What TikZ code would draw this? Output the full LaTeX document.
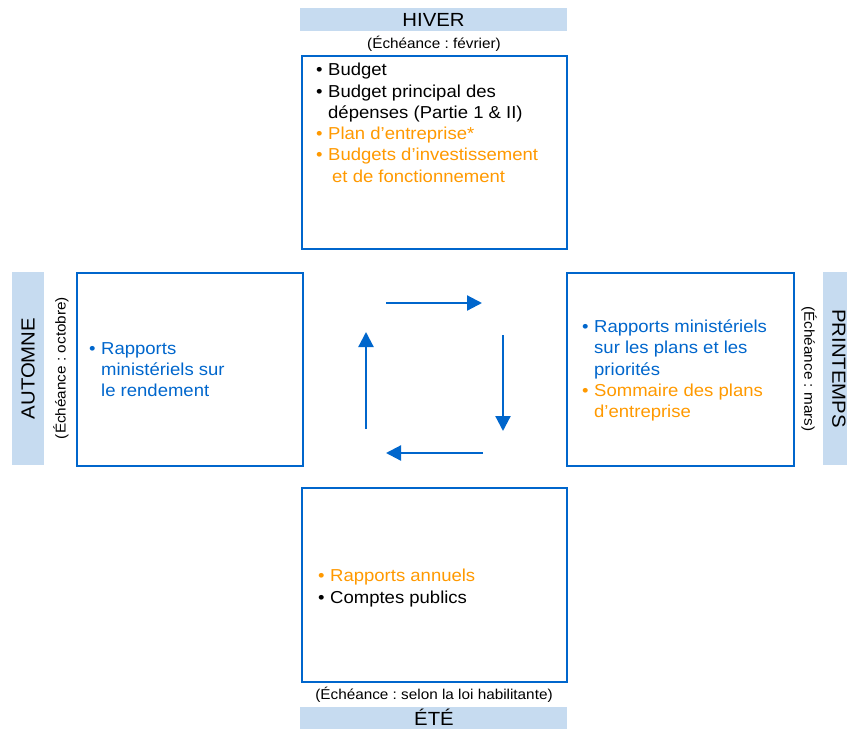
\documentclass[tikz,border=0pt]{standalone}
\usepackage{fontspec}
\setmainfont{Liberation Sans}[FakeStretch=1.07]
\usetikzlibrary{arrows.meta,positioning}

\definecolor{lineblue}{HTML}{0066CC}
\definecolor{bandblue}{HTML}{C6DBF0}
\definecolor{reportorange}{HTML}{FF9900}

\newcommand{\bul}{\makebox[12pt][l]{\textbullet}}
\newcommand{\ind}{\hspace*{12pt}}
\frenchspacing

\tikzset{
  season/.style={fill=bandblue, inner sep=0pt, font=\fontsize{19}{22}\selectfont},
  deadline/.style={inner sep=0pt, font=\fontsize{14.3}{16}\selectfont},
  quarter/.style={draw=lineblue, line width=2pt, inner sep=0pt},
  items/.style={inner sep=0pt, align=left, font=\fontsize{17.3}{21.3}\selectfont},
  cycle/.style={draw=lineblue, line width=2.2pt, -{Triangle[length=15pt,width=15pt]}}
}

\begin{document}
\begin{tikzpicture}[x=1pt,y=-1pt]
\useasboundingbox (0,0) rectangle (847,729);

% The four seasons
\node[quarter, minimum width=265pt, minimum height=193pt] (hiver) at (434.5,152.5) {};
\node[quarter, minimum width=226pt, minimum height=193pt] (automne) at (190,369.5) {};
\node[quarter, minimum width=227pt, minimum height=193pt] (printemps) at (680.5,369.5) {};
\node[quarter, minimum width=265pt, minimum height=194pt] (ete) at (434.5,585) {};

% Season headers
\node[season, minimum width=267pt, minimum height=23pt] (hiverband) at (433.5,19.5) {HIVER};
\node[season, minimum width=267pt, minimum height=22pt] (eteband) at (433.5,718) {};
\node[season, anchor=base] (etename) at (434,725.5) {ÉTÉ};
\node[season, rotate=90, minimum width=193pt, minimum height=32pt] (automneband) at (28,368.5) {AUTOMNE};
\node[season, rotate=-90, minimum width=193pt, minimum height=32pt] (printempsband) at (839,368.5) {PRINTEMPS};

\node[deadline] (hiverdate) at (434,44) {(Échéance : février)};
\node[deadline] (etedate) at (434,695) {(Échéance : selon la loi habilitante)};
\node[deadline, rotate=90] (automnedate) at (61,368) {(Échéance : octobre)};
\node[deadline, rotate=-90] (printempsdate) at (809,369) {(Échéance : mars)};

% Contents
\node[items, anchor=north west] (hivertext) at ([xshift=15pt,yshift=-8pt]hiver.north west) {
    \bul Budget \\
    \bul Budget principal des \\
    \ind dépenses (Partie 1 \& II) \\
    \color{reportorange}\bul Plan d’entreprise* \\
    \color{reportorange}\bul Budgets d’investissement \\
    \color{reportorange}\ind\hspace*{4pt}et de fonctionnement
};
\node[items, anchor=west, text=lineblue] (automnetext) at ([xshift=13pt]automne.west) {
    \bul Rapports \\
    \ind ministériels sur \\
    \ind le rendement
};
\node[items, anchor=west] (printempstext) at ([xshift=16pt,yshift=-1pt]printemps.west) {
    \color{lineblue}\bul Rapports ministériels \\
    \color{lineblue}\ind sur les plans et les \\
    \color{lineblue}\ind priorités \\
    \color{reportorange}\bul Sommaire des plans \\
    \color{reportorange}\ind d’entreprise
};
\node[items, anchor=west] (etetext) at ([xshift=17pt,yshift=-3pt]ete.west) {
    \color{reportorange}\bul Rapports annuels \\
    \bul Comptes publics
};

% Cycle arrows
\coordinate (topstart) at (386,303);
\coordinate (topend) at (482,303);
\coordinate (rightstart) at (503,335);
\coordinate (rightend) at (503,431);
\coordinate (bottomstart) at (483,453);
\coordinate (bottomend) at (386,453);
\coordinate (leftstart) at (366,429);
\coordinate (leftend) at (366,332);

\draw[cycle] (topstart) -- (topend);
\draw[cycle] (rightstart) -- (rightend);
\draw[cycle] (bottomstart) -- (bottomend);
\draw[cycle] (leftstart) -- (leftend);
\end{tikzpicture}
\end{document}
